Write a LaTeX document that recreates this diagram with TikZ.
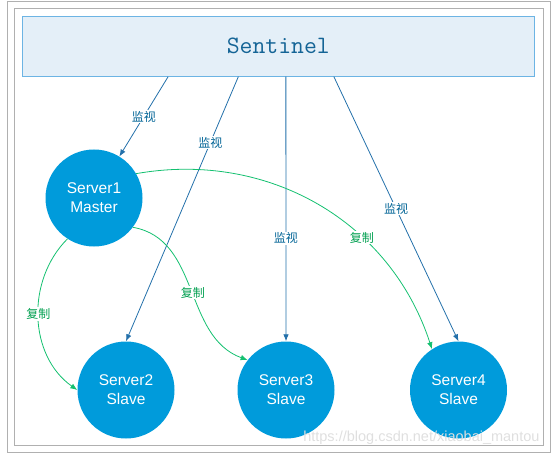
\documentclass[tikz,border=0pt]{standalone}
\usepackage{fontspec}
\setmainfont{Liberation Sans}
\newfontfamily\cjk{Noto Sans CJK SC}
\usetikzlibrary{arrows.meta}

\definecolor{frame}{RGB}{176,176,176}
\definecolor{boxfill}{RGB}{228,239,248}
\definecolor{boxline}{RGB}{108,180,228}
\definecolor{titleblue}{RGB}{20,100,150}
\definecolor{ballblue}{RGB}{0,155,219}
\definecolor{monline}{RGB}{35,112,170}
\definecolor{montext}{RGB}{0,100,150}
\definecolor{copyline}{RGB}{20,192,112}
\definecolor{copytext}{RGB}{0,160,80}

\begin{document}
\begin{tikzpicture}[x=1pt,y=-1pt]
	\tikzstyle{server}=[circle,fill=ballblue,text=white,minimum size=97pt,inner sep=0pt,
		align=center,font=\fontsize{15.5}{19}\selectfont]
	\tikzstyle{mon}=[monline,line width=.8pt,-{Latex[length=7pt,width=5.5pt]}]
	\tikzstyle{monlabel}=[fill=white,inner sep=1pt,text=montext,font=\cjk\fontsize{12}{12}\selectfont]
	\tikzstyle{copy}=[copyline,line width=.8pt,-{Latex[length=7pt,width=5.5pt]}]
	\tikzstyle{copylabel}=[fill=white,inner sep=1pt,text=copytext,font=\cjk\fontsize{12}{12}\selectfont]
	\useasboundingbox (0,0) rectangle (553,454);
	\draw[frame,line width=.9pt] (7.3,1.3) rectangle (550.7,452.7);
	\draw[frame,line width=.9pt] (14.3,8.3) rectangle (543.3,445.7);
	\node[draw=boxline,line width=.9pt,fill=boxfill,minimum width=512pt,minimum height=60pt,inner sep=0pt,
		text=titleblue,font=\ttfamily\fontsize{25}{26}\selectfont] (sentinel) at (278.3,46.2) {Sentinel};
	\node[server] (s1) at (94,198) {Server1\\Master};
	\node[server] (s2) at (126,390) {Server2\\Slave};
	\node[server] (s3) at (286,390) {Server3\\Slave};
	\node[server] (s4) at (458.5,390) {Server4\\Slave};
	\draw[mon] ([xshift=146.3pt]sentinel.south west) -- (s1) node[monlabel,pos=.5]{监视};
	\draw[mon] ([xshift=216.5pt]sentinel.south west) -- (s2.north) node[monlabel,pos=.25]{监视};
	\draw[mon] ([xshift=264pt]sentinel.south west) -- (s3.north) node[monlabel,pos=.61]{监视};
	\draw[mon] ([xshift=312pt]sentinel.south west) -- (s4.north) node[monlabel,pos=.5]{监视};
	\draw[copy] (s1.237) to[out=225,in=145] node[copylabel,pos=.48]{复制} (s2.west);
	\draw[copy] (s1.323) to[out=-10,in=160] node[copylabel,pos=.52]{复制} (s3.142);
	\draw[copy] (s1.30) to[out=10,in=108] node[copylabel,pos=.65]{复制} (s4.123);
	\node[text=gray!25,font=\fontsize{14.5}{16}\selectfont,anchor=base east] (mark) at (543,441) {https://blog.csdn.net/xiaobai\_mantou};
\end{tikzpicture}
\end{document}
